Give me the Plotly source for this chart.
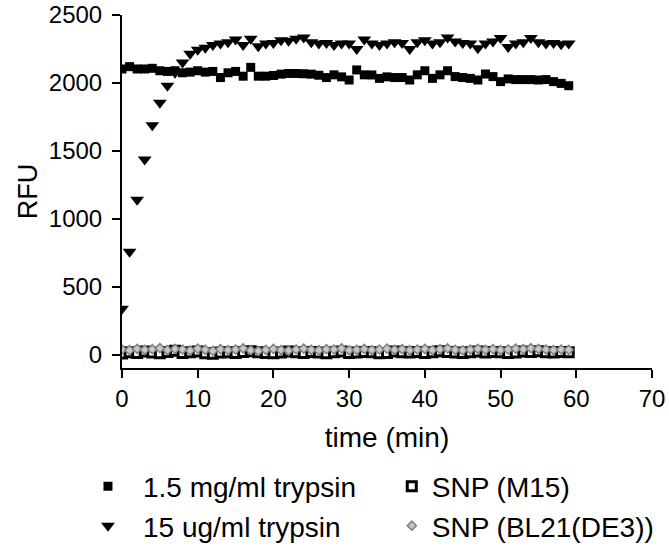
import plotly.graph_objects as go

time_min = list(range(60))

trypsin_high = [2103, 2120, 2103, 2103, 2108, 2090, 2085, 2090, 2075, 2080,
                2090, 2080, 2085, 2040, 2075, 2085, 2050, 2115, 2050, 2050,
                2055, 2065, 2070, 2070, 2068, 2065, 2057, 2040, 2060, 2045,
                2022, 2096, 2060, 2059, 2034, 2045, 2040, 2040, 2022, 2060,
                2090, 2034, 2060, 2090, 2047, 2040, 2034, 2022, 2066, 2047,
                2010, 2030, 2025, 2025, 2025, 2022, 2025, 2010, 1997, 1980]

trypsin_low = [340, 758, 1141, 1437, 1690, 1855, 1980, 2075, 2150, 2215,
               2245, 2260, 2280, 2290, 2300, 2320, 2280, 2325, 2270, 2290,
               2295, 2315, 2310, 2325, 2335, 2300, 2290, 2295, 2280, 2290,
               2290, 2250, 2320, 2290, 2280, 2290, 2300, 2295, 2250, 2300,
               2315, 2290, 2300, 2335, 2305, 2295, 2290, 2255, 2290, 2305,
               2330, 2265, 2290, 2300, 2330, 2300, 2290, 2295, 2285, 2290]

snp_m15 = [10, 20, 15, 25, 18, 12, 22, 30, 15, 20, 25, 12, 8, 18, 20,
           15, 22, 28, 20, 15, 12, 18, 25, 20, 15, 22, 18, 12, 20, 25,
           15, 18, 22, 20, 12, 15, 25, 20, 18, 22, 15, 20, 28, 22, 18,
           15, 20, 25, 18, 22, 20, 15, 18, 25, 22, 28, 20, 18, 22, 20]

snp_bl21 = [40, 35, 45, 38, 42, 50, 36, 44, 40, 33, 46, 38, 30, 42, 36,
            40, 48, 35, 30, 38, 44, 36, 32, 40, 46, 38, 35, 42, 40, 48,
            34, 38, 44, 36, 40, 46, 38, 42, 35, 40, 44, 36, 42, 48, 38,
            34, 40, 45, 38, 42, 36, 40, 46, 42, 50, 44, 40, 36, 40, 38]

FONT = "Liberation Sans, Arial, sans-serif"

fig = go.Figure()

fig.add_trace(go.Scatter(
    x=time_min, y=trypsin_high, mode="markers", name="1.5 mg/ml trypsin",
    marker=dict(symbol="square", size=9, color="black"),
    legend="legend", legendgroup="a",
))
fig.add_trace(go.Scatter(
    x=time_min, y=trypsin_low, mode="markers", name="15 ug/ml trypsin",
    marker=dict(symbol="triangle-down", size=12, color="black"),
    legend="legend", legendgroup="b",
))
fig.add_trace(go.Scatter(
    x=time_min, y=snp_m15, mode="markers", name="SNP (M15)",
    marker=dict(symbol="square", size=9, color="white",
                line=dict(color="black", width=3)),
    legend="legend2", legendgroup="c",
))
fig.add_trace(go.Scatter(
    x=time_min, y=snp_bl21, mode="markers", name="SNP (BL21(DE3))",
    marker=dict(symbol="diamond", size=7, color="#c8c8c8",
                line=dict(color="#808080", width=1.5)),
    legend="legend2", legendgroup="d",
))

axis_common = dict(
    showline=True, linecolor="black", linewidth=2,
    ticks="outside", ticklen=8, tickwidth=2, tickcolor="black",
    showgrid=False, zeroline=False, automargin=False,
    ticklabeloverflow="allow",
    tickfont=dict(family=FONT, size=24, color="black"),
)

fig.update_xaxes(
    range=[0, 70], tickvals=[0, 10, 20, 30, 40, 50, 60, 70],
    title=dict(text="time (min)", font=dict(family=FONT, size=28, color="black"),
               standoff=17),
    **axis_common,
)
fig.update_yaxes(
    range=[-96, 2500], tickvals=[0, 500, 1000, 1500, 2000, 2500],
    ticklabelstandoff=5,
    title=dict(text="RFU", font=dict(family=FONT, size=27, color="black"),
               standoff=3),
    **axis_common,
)

legend_common = dict(
    orientation="v", xanchor="left", yanchor="top", y=-0.265,
    font=dict(family=FONT, size=28, color="black"),
    bgcolor="rgba(0,0,0,0)", traceorder="grouped", tracegroupgap=0,
)

fig.update_layout(
    width=669, height=551,
    margin=dict(l=122, r=17, t=15, b=183, autoexpand=False),
    paper_bgcolor="white", plot_bgcolor="white",
    legend=dict(x=-0.0925, itemwidth=60, **legend_common),
    legend2=dict(x=0.509, **legend_common),
)

# drop the default 8px body margin so the figure fills the window
fig.write_html(
    "out.html",
    config={"displayModeBar": False},
    post_script="document.body.style.margin = '0';",
)
